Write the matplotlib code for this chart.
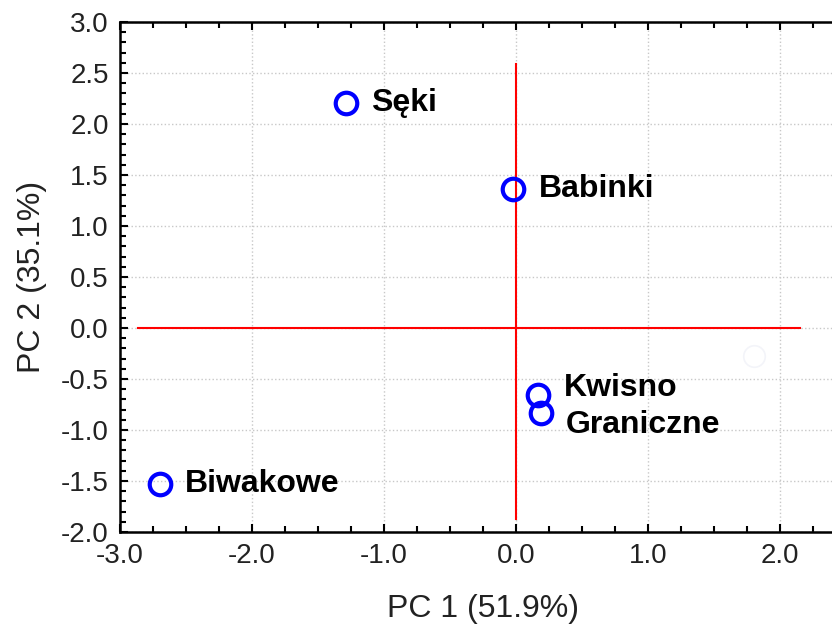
import matplotlib
matplotlib.use('Agg')
import matplotlib.pyplot as plt
from matplotlib.ticker import MultipleLocator, FormatStrFormatter

plt.rcParams['font.family'] = ['Liberation Sans', 'DejaVu Sans']

# PCA scores
sites = ['Sęki', 'Babinki', 'Kwisno', 'Graniczne', 'Biwakowe']
pc1 = [-1.29, -0.02, 0.17, 0.19, -2.70]
pc2 = [2.21, 1.36, -0.66, -0.83, -1.53]

# faint leftover point near the right edge
ghost_x = [1.80]
ghost_y = [-0.27]

# extent of the red reference axes
hline_x = [-2.86, 2.15]
vline_y = [-1.87, 2.59]

fig = plt.figure(figsize=(8.32, 6.25), dpi=100)
ax = fig.add_axes([120 / 832, 93 / 625, 5.5 * 132 / 832, 510 / 625])

ax.plot(hline_x, [0, 0], color='red', lw=1.5, zorder=2)
ax.plot([0, 0], vline_y, color='red', lw=1.5, zorder=2)

ax.plot(ghost_x, ghost_y, 'o', ms=15.5, mfc='none', mec='#f3f4f9', mew=1.2, zorder=3)
ax.plot(pc1, pc2, 'o', ms=15.5, mfc='none', mec='#0000ff', mew=3.0, zorder=4)

# small vertical nudges so the two close labels don't overlap
offsets = {'Kwisno': 0.07, 'Graniczne': -0.12}
for name, x, y in zip(sites, pc1, pc2):
    ax.text(x + 0.19, y + offsets.get(name, 0), name, fontsize=23, fontweight='bold',
            va='center', ha='left', zorder=5)

ax.set_xlim(-3.0, 2.5)
ax.set_ylim(-2.0, 3.0)
ax.xaxis.set_major_locator(MultipleLocator(1.0))
ax.xaxis.set_minor_locator(MultipleLocator(0.25))
ax.yaxis.set_major_locator(MultipleLocator(0.5))
ax.yaxis.set_minor_locator(MultipleLocator(0.1))
ax.xaxis.set_major_formatter(FormatStrFormatter('%.1f'))
ax.yaxis.set_major_formatter(FormatStrFormatter('%.1f'))

ax.tick_params(which='both', direction='in', top=True, right=False, labelsize=20,
               width=1.5, colors='black')
ax.tick_params(which='major', length=6, pad=8)
ax.tick_params(which='minor', length=4)
for lab in ax.get_xticklabels() + ax.get_yticklabels():
    lab.set_color('#222222')

ax.grid(True, which='major', linestyle=':', color='#c8c8c8', lw=1)
for s in ax.spines.values():
    s.set_linewidth(1.8)

ax.set_xlabel('PC 1 (51.9%)', fontsize=23, color='#222222', labelpad=18)
ax.set_ylabel('PC 2 (35.1%)', fontsize=23, color='#222222', labelpad=10)

fig.savefig('out.png', dpi=100)
